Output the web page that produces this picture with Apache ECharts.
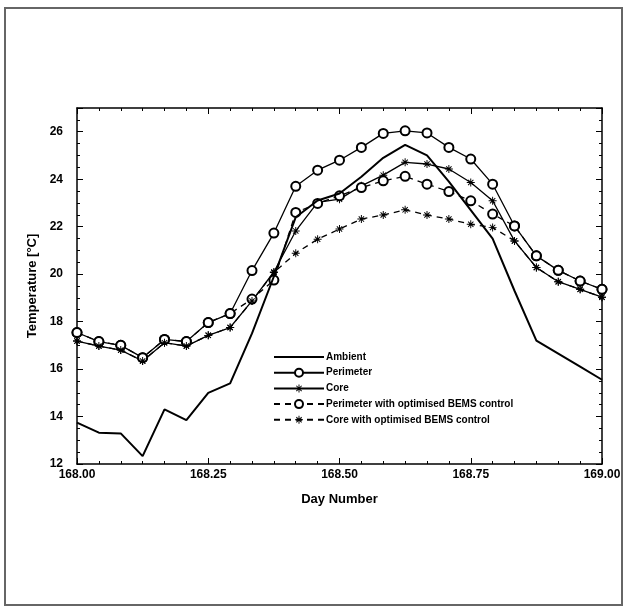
<!DOCTYPE html>
<html>
<head>
<meta charset="utf-8">
<script src="https://cdn.jsdelivr.net/npm/echarts@6/dist/echarts.min.js"></script>
<style>
  html, body { margin: 0; padding: 0; background: #fff; }
  #main { width: 629px; height: 612px; }
</style>
</head>
<body>
<div id="main"></div>
<script>
// hourly readings, day 168.00 .. 169.00
var hours = [0,1,2,3,4,5,6,7,8,9,10,11,12,13,14,15,16,17,18,19,20,21,22,23,24];
var ambient = [13.74,13.32,13.29,12.33,14.3,13.85,15.0,15.4,17.5,19.9,22.4,23.1,23.4,24.1,24.9,25.45,25.0,23.9,22.7,21.5,19.3,17.2,16.65,16.1,15.55];
var perimeter = [17.54,17.16,17.0,16.48,17.25,17.16,17.96,18.34,20.15,21.73,23.7,24.38,24.8,25.34,25.93,26.04,25.95,25.34,24.85,23.79,22.03,20.77,20.16,19.71,19.36];
var core = [17.18,16.97,16.8,16.34,17.11,16.97,17.42,17.75,18.87,20.09,21.82,23.02,23.16,23.72,24.17,24.71,24.64,24.43,23.86,23.09,21.4,20.28,19.68,19.36,19.03];
var perimeterBems = [17.54,17.16,17.0,16.48,17.25,17.16,17.96,18.34,18.95,19.75,22.6,22.98,23.3,23.65,23.93,24.12,23.79,23.48,23.09,22.53,22.03,20.77,20.16,19.71,19.36];
var coreBems = [17.18,16.97,16.8,16.34,17.11,16.97,17.42,17.75,18.87,20.07,20.88,21.47,21.9,22.32,22.49,22.71,22.49,22.32,22.1,21.97,21.4,20.28,19.68,19.36,19.03];
var xTicks = [168.00, 168.25, 168.50, 168.75, 169.00];

function pts(vals) {
  return hours.map(function (h, i) { return [168 + h / 24, vals[i]]; });
}

var star = 'path://M8.8 0L11.2 0L11.2 20L8.8 20ZM0 8.8L20 8.8L20 11.2L0 11.2ZM2.5 4.2L4.2 2.5L17.5 15.8L15.8 17.5ZM15.8 2.5L17.5 4.2L4.2 17.5L2.5 15.8Z';
// plain thick line for the ambient legend entry
var bar = 'path://M0 0L0.01 0L0.01 0.01L0 0.01ZM0 4L50 4L50 6L0 6ZM49.99 9.99L50 9.99L50 10L49.99 10Z';

var myChart = echarts.init(document.getElementById('main'));
var font = 'Liberation Sans';

var common = {
  type: 'line',
  showSymbol: true,
  symbolSize: 9,
  animation: false
};

myChart.setOption({
  backgroundColor: '#fff',
  graphic: [{
    type: 'rect',
    shape: { x: 5, y: 8, width: 617, height: 597 },
    style: { fill: 'none', stroke: '#666', lineWidth: 2 }
  }],
  grid: { left: 77, right: 27, top: 108, bottom: 148 },
  legend: {
    orient: 'vertical',
    left: 268,
    top: 347,
    itemWidth: 50,
    itemHeight: 10,
    itemGap: 5.7,
    textStyle: { fontFamily: font, fontWeight: 'bold', fontSize: 10, color: '#000', padding: [0, 0, 0, -3] },
    data: [
      { name: 'Ambient', icon: bar },
      'Perimeter', 'Core', 'Perimeter with optimised BEMS control', 'Core with optimised BEMS control'
    ]
  },
  xAxis: [{
    type: 'value',
    min: 168, max: 169, interval: 0.25,
    name: 'Day Number',
    nameLocation: 'middle',
    nameGap: 29,
    nameTextStyle: { fontFamily: font, fontWeight: 'bold', fontSize: 13, color: '#000' },
    axisLine: { lineStyle: { color: '#000', width: 1.5 } },
    axisTick: { inside: true, length: 6, lineStyle: { color: '#000' } },
    minorTick: { show: true, splitNumber: 6, length: 3, lineStyle: { color: '#000' } },
    axisLabel: {
      margin: 5, color: '#000', fontFamily: font, fontWeight: 'bold', fontSize: 12,
      formatter: function (v) { return xTicks.indexOf(v) >= 0 ? v.toFixed(2) : ''; }
    },
    splitLine: { show: false }
  }, {
    type: 'value', position: 'top',
    min: 168, max: 169, interval: 0.25,
    axisLine: { lineStyle: { color: '#000', width: 1.5 } },
    axisTick: { inside: true, length: 6, lineStyle: { color: '#000' } },
    minorTick: { show: true, splitNumber: 6, length: 3, lineStyle: { color: '#000' } },
    axisLabel: { show: false },
    splitLine: { show: false }
  }],
  yAxis: [{
    type: 'value',
    min: 12, max: 27, interval: 2,
    name: 'Temperature [°C]',
    nameLocation: 'middle',
    nameGap: 36,
    nameTextStyle: { fontFamily: font, fontWeight: 'bold', fontSize: 13, color: '#000' },
    axisLine: { show: true, lineStyle: { color: '#000', width: 1.5 } },
    axisTick: { show: true, inside: true, length: 6, lineStyle: { color: '#000' } },
    minorTick: { show: true, splitNumber: 4, length: 3, lineStyle: { color: '#000' } },
    axisLabel: {
      margin: 14, color: '#000', fontFamily: font, fontWeight: 'bold', fontSize: 12,
      formatter: function (v) { return v <= 26 ? v : ''; }
    },
    splitLine: { show: false }
  }, {
    type: 'value', position: 'right',
    min: 12, max: 27, interval: 2,
    axisLine: { show: true, lineStyle: { color: '#000', width: 1.5 } },
    axisTick: { show: true, inside: true, length: 6, lineStyle: { color: '#000' } },
    minorTick: { show: true, splitNumber: 4, length: 3, lineStyle: { color: '#000' } },
    axisLabel: { show: false },
    splitLine: { show: false }
  }],
  series: [
    Object.assign({}, common, {
      name: 'Ambient', data: pts(ambient), showSymbol: false, symbol: 'none',
      lineStyle: { color: '#000', width: 2 }, itemStyle: { color: '#000' }, z: 5
    }),
    Object.assign({}, common, {
      name: 'Perimeter', data: pts(perimeter), symbol: 'emptyCircle',
      lineStyle: { color: '#000', width: 1.3 },
      itemStyle: { color: '#000', borderWidth: 1.3 }
    }),
    Object.assign({}, common, {
      name: 'Core', data: pts(core), symbol: star, symbolSize: 8,
      lineStyle: { color: '#000', width: 1.3 }, itemStyle: { color: '#000' }
    }),
    Object.assign({}, common, {
      name: 'Perimeter with optimised BEMS control', data: pts(perimeterBems), symbol: 'emptyCircle',
      lineStyle: { color: '#000', width: 1.3, type: [6, 5] },
      itemStyle: { color: '#000', borderWidth: 1.3 }
    }),
    Object.assign({}, common, {
      name: 'Core with optimised BEMS control', data: pts(coreBems), symbol: star, symbolSize: 8,
      lineStyle: { color: '#000', width: 1.3, type: [6, 5] }, itemStyle: { color: '#000' }
    })
  ]
});
</script>
</body>
</html>
